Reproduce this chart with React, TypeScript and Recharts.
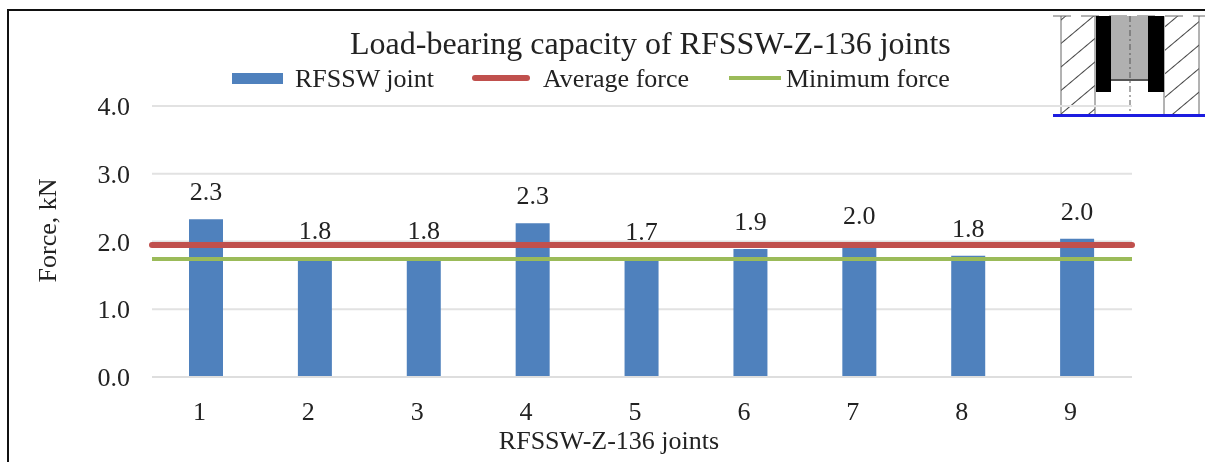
import { ComposedChart, Bar, XAxis, YAxis, CartesianGrid, LabelList, Legend, ReferenceLine } from 'recharts';

const joints = ['1', '2', '3', '4', '5', '6', '7', '8', '9'];
const forces = [2.33, 1.76, 1.76, 2.27, 1.74, 1.89, 1.98, 1.79, 2.04];
const forceTicks = [0, 1, 2, 3, 4];
const averageForce = 1.95;
const minimumForce = 1.74;

const data = joints.map((joint, i) => ({ joint, force: forces[i] }));

const FONT = '"Liberation Serif", serif';
const INK = '#222222';

function LegendRow() {
  const text = { position: 'absolute', top: 1, fontFamily: FONT, fontSize: 26, lineHeight: '30px', color: INK, whiteSpace: 'nowrap' } as const;
  return (
    <div style={{ position: 'relative', width: 1205, height: 30 }}>
      <div style={{ position: 'absolute', left: 232, top: 10, width: 51, height: 11, background: '#4f81bd' }} />
      <span style={{ ...text, left: 295 }}>RFSSW joint</span>
      <div style={{ position: 'absolute', left: 472, top: 12, width: 58, height: 6, borderRadius: 3, background: '#c0504d' }} />
      <span style={{ ...text, left: 543 }}>Average force</span>
      <div style={{ position: 'absolute', left: 729, top: 13, width: 52, height: 4, background: '#9bbb59' }} />
      <span style={{ ...text, left: 786 }}>Minimum force</span>
    </div>
  );
}

// small cross-section sketch in the top right corner
function JointSketch() {
  return (
    <svg width={205} height={130} style={{ position: 'absolute', left: 1000, top: 0 }}>
      <defs>
        <pattern id="hatch" width="18" height="18" patternUnits="userSpaceOnUse" patternTransform="rotate(-40)">
          <line x1="0" y1="0" x2="18" y2="0" stroke="#444" strokeWidth="2" />
        </pattern>
      </defs>
      <rect x={61} y={16} width={34} height={98} fill="url(#hatch)" />
      <rect x={165} y={16} width={34} height={98} fill="url(#hatch)" />
      <line x1={61} y1={16} x2={61} y2={114} stroke="#666" />
      <line x1={95} y1={16} x2={95} y2={114} stroke="#666" />
      <line x1={164} y1={16} x2={164} y2={114} stroke="#666" />
      <line x1={199} y1={16} x2={199} y2={114} stroke="#666" />
      <line x1={53} y1={16} x2={205} y2={16} stroke="#666" strokeDasharray="18 10" />
      <rect x={111} y={16} width={37} height={65} fill="#b0b0b0" />
      <rect x={96} y={16} width={15} height={76} fill="#000" />
      <rect x={148} y={16} width={16} height={76} fill="#000" />
      <line x1={111} y1={80} x2={148} y2={80} stroke="#555" strokeWidth={2} />
      <line x1={130} y1={16} x2={130} y2={114} stroke="#555" strokeDasharray="6 3 2 3" />
      <rect x={53} y={114} width={152} height={3} fill="#1c1ce0" />
    </svg>
  );
}

export default function App() {
  return (
    <div style={{ position: 'absolute', left: 0, top: 0, width: 1205, height: 462, background: '#fff', overflow: 'hidden', filter: 'blur(0.4px)' }}>
      <div style={{ position: 'absolute', left: 7, top: 9, width: 1300, height: 600, border: '2px solid #111' }} />
      <div style={{ position: 'absolute', left: 350, top: 25, fontFamily: FONT, fontSize: 32, lineHeight: '36px', color: INK, whiteSpace: 'nowrap' }}>
        Load-bearing capacity of RFSSW-Z-136 joints
      </div>
      <JointSketch />
      <div style={{ position: 'absolute', left: 0, top: 0 }}>
        <ComposedChart width={1205} height={462} data={data} margin={{ top: 76, right: 73, bottom: 0, left: 0 }}>
          <CartesianGrid horizontal vertical={false} stroke="#e2e2e2" strokeWidth={2} />
          <XAxis
            dataKey="joint"
            height={85}
            tickLine={false}
            axisLine={{ stroke: '#dedede', strokeWidth: 2 }}
            tick={{ fontFamily: FONT, fontSize: 26, fill: INK, dx: -7 }}
            tickMargin={19}
            label={{ value: 'RFSSW-Z-136 joints', position: 'insideBottom', offset: 13, dx: -33, style: { fontFamily: FONT, fontSize: 26, fill: INK } }}
          />
          <YAxis
            width={152}
            domain={[0, 4]}
            ticks={forceTicks}
            tickFormatter={(v) => v.toFixed(1)}
            tickLine={false}
            axisLine={false}
            tick={{ fontFamily: FONT, fontSize: 26, fill: INK }}
            tickMargin={16}
            label={{ value: 'Force, kN', angle: -90, position: 'insideLeft', offset: 47, dy: -11, style: { fontFamily: FONT, fontSize: 26, fill: INK, textAnchor: 'middle' } }}
          />
          <Legend verticalAlign="top" wrapperStyle={{ left: 0, top: 63, width: 1205 }} content={() => <LegendRow />} />
          <Bar dataKey="force" name="RFSSW joint" fill="#4f81bd" barSize={34} isAnimationActive={false}>
            <LabelList dataKey="force" position="top" offset={19} formatter={(v: number) => v.toFixed(1)} style={{ fontFamily: FONT, fontSize: 26, fill: INK }} />
          </Bar>
          <ReferenceLine y={averageForce} stroke="#c0504d" strokeWidth={6} strokeLinecap="round" />
          <ReferenceLine y={minimumForce} stroke="#9bbb59" strokeWidth={4} />
        </ComposedChart>
      </div>
    </div>
  );
}
